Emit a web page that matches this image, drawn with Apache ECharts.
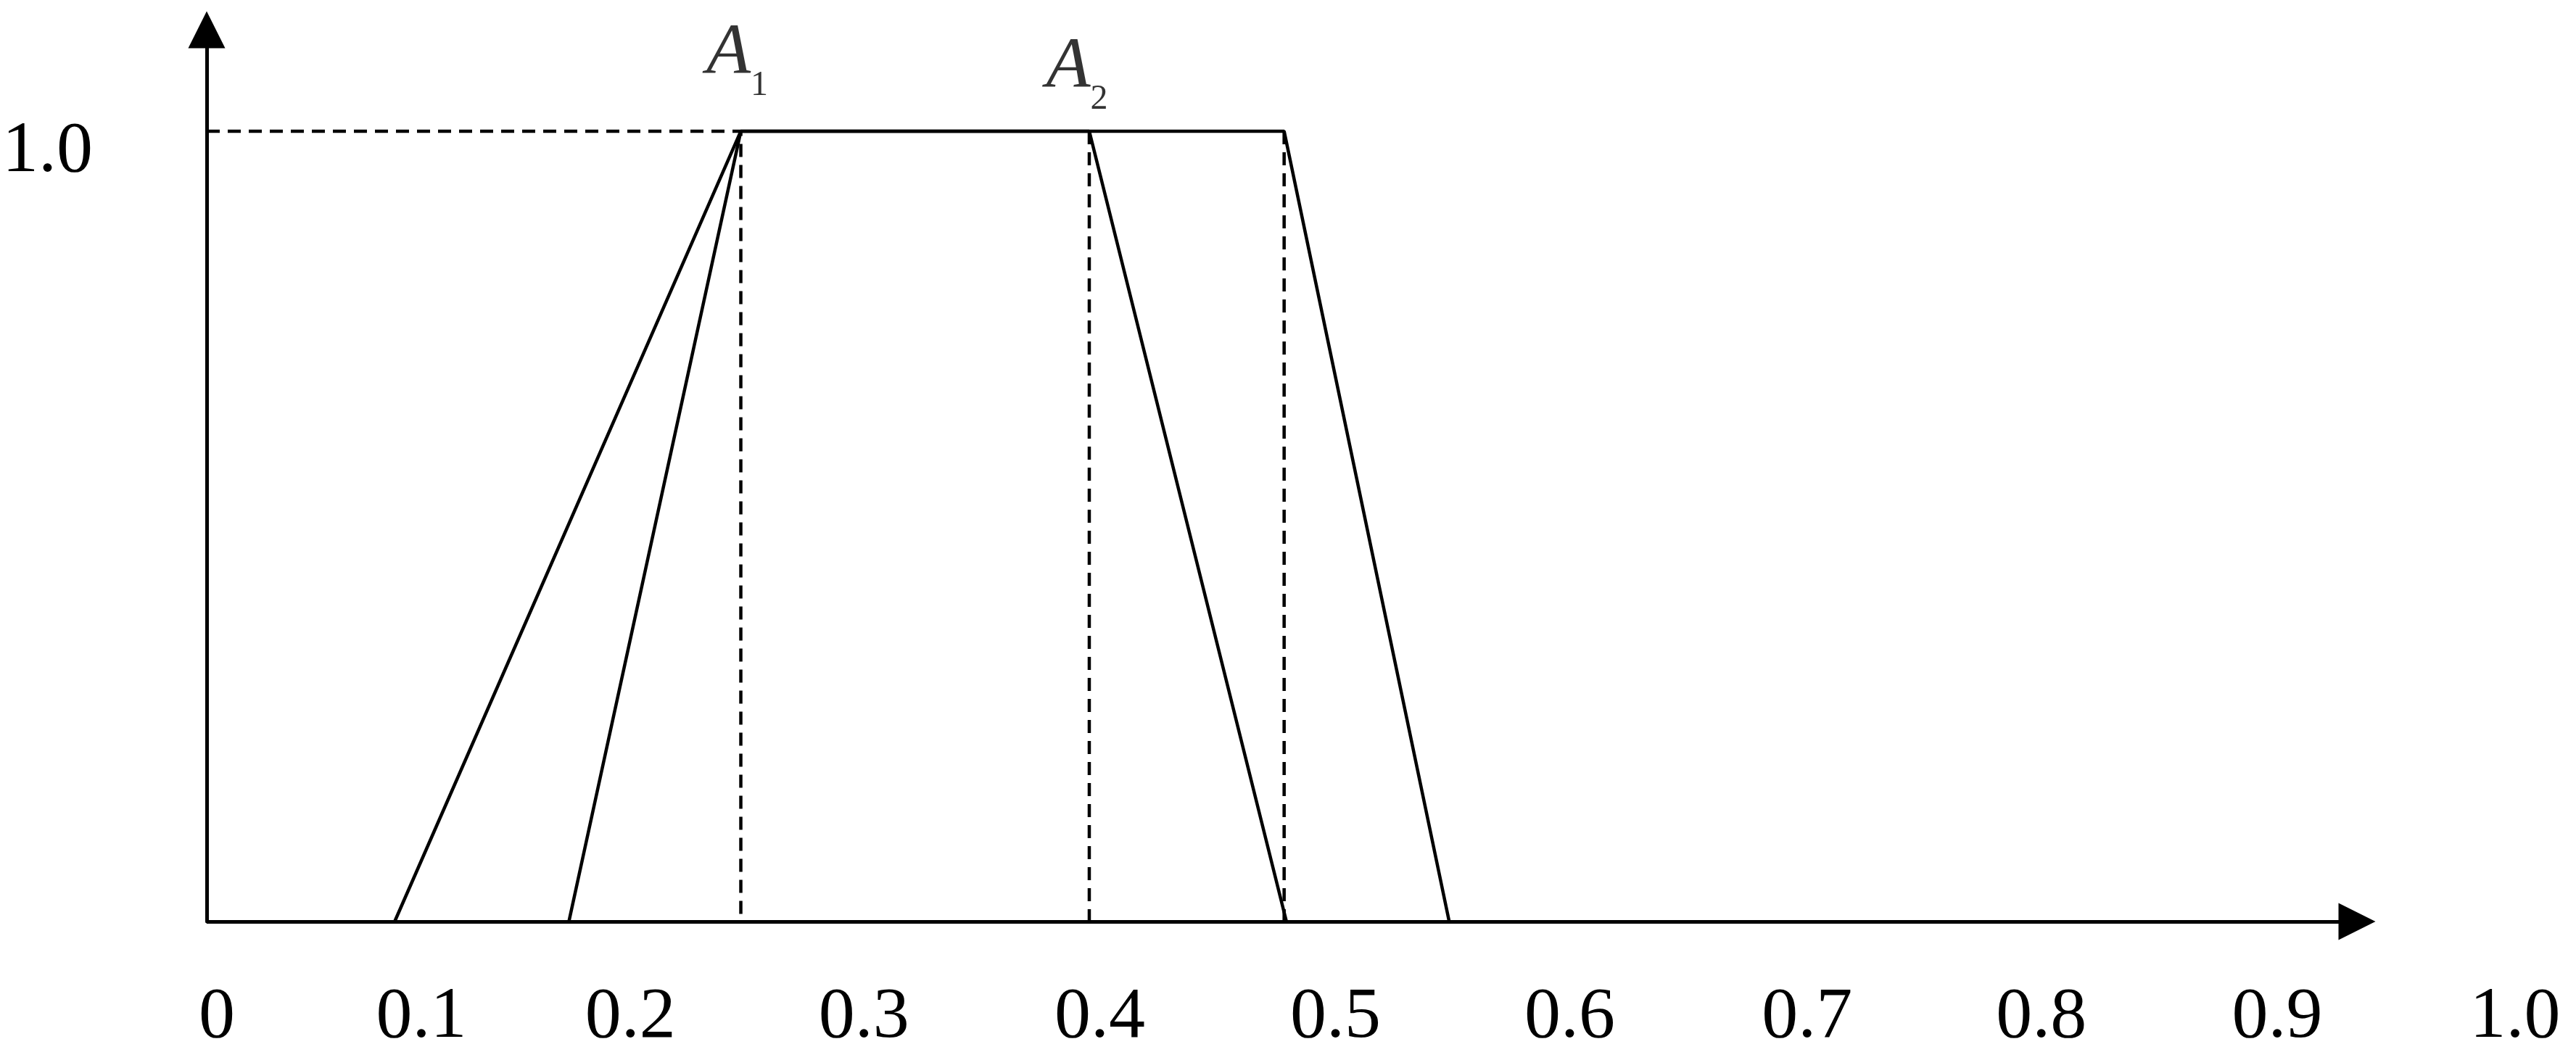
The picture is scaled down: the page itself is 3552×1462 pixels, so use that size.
<!DOCTYPE html>
<html>
<head>
<meta charset="utf-8">
<script src="https://cdn.jsdelivr.net/npm/echarts@6/dist/echarts.min.js"></script>
<style>
html,body{margin:0;padding:0;background:#fff;}
#chart{width:3552px;height:1462px;}
</style>
</head>
<body>
<div id="chart"></div>
<script>
// ---- data ----
const xTickValues = [0, 0.1, 0.2, 0.3, 0.4, 0.5, 0.6, 0.7, 0.8, 0.9, 1.0];
const xTickLabels = ['0', '0.1', '0.2', '0.3', '0.4', '0.5', '0.6', '0.7', '0.8', '0.9', '1.0'];
const yTickValues = [1.0];
const yTickLabels = ['1.0'];
// trapezoidal fuzzy numbers (a, b, c, d) and membership at each vertex
const A1 = [0.082, 0.233, 0.470, 0.542];
const A2 = [0.158, 0.233, 0.385, 0.471];
const membership = [0, 1, 1, 0];
const labelMain = ['A', 'A'];
const labelSub = ['1', '2'];
const labelAnchorX = [A1[1], A2[2]];
const labelAnchorY = [1, 1];
const xAxisEnd = 0.938;   // where the drawn x axis (with arrow) ends
const yAxisMax = 1.1284;  // where the drawn y axis (with arrow) ends

// ---- styles ----
const FONT = 'Liberation Serif';
const solid = { color: '#000', width: 4.5, type: 'solid' };
const dashed = { color: '#000', width: 4.5, type: [18, 11] };
const labelStyles = [
  { distance: 56, offset: [-5, 0] },
  { distance: 37, offset: [-17, 0] }
];
// horizontal nudges of the hand-placed tick labels (pixels)
const xLabelShift = [14, -20, -48, -42, -33, -24, -17, -6, 1, 10, 22];

function tickIndex(values, v) {
  return values.findIndex(t => Math.abs(t - v) < 1e-6);
}
const xRich = {};
xLabelShift.forEach((d, i) => {
  xRich['t' + i] = {
    fontFamily: FONT, fontSize: 100, lineHeight: 100, color: '#000',
    padding: d >= 0 ? [0, 0, 0, 2 * d] : [0, -2 * d, 0, 0]
  };
});

function trap(t) { return t.map((x, i) => [x, membership[i]]); }
function lineSeries(name, data, style) {
  return {
    name, type: 'line', data, symbol: 'none', showSymbol: false, clip: false,
    silent: true, animation: false, lineStyle: style, emphasis: { disabled: true }
  };
}

const guides = [
  [[0, 1], [A1[1], 1], [A1[1], 0]],
  [[A2[2], 1], [A2[2], 0]],
  [[A1[2], 1], [A1[2], 0]]
];

const series = [
  lineSeries('A1', trap(A1), solid),
  lineSeries('A2', trap(A2), solid)
];
guides.forEach((g, i) => series.push(lineSeries('guide' + i, g, dashed)));
series.push({
  name: 'xAxisLine', type: 'line', data: [], clip: false, silent: true, animation: false,
  markLine: {
    silent: true, animation: false,
    symbol: ['none', 'triangle'], symbolSize: 51,
    label: { show: false },
    emphasis: { disabled: true },
    lineStyle: { color: '#000', width: 5, type: 'solid' },
    data: [[{ coord: [0, 0] }, { coord: [xAxisEnd, 0] }]]
  }
});
series.push({
  name: 'labels', type: 'scatter', clip: false, silent: true, animation: false,
  symbolSize: 1, itemStyle: { color: 'transparent' },
  data: labelAnchorX.map((x, i) => ({
    value: [x, labelAnchorY[i]],
    label: {
      show: true, position: 'top',
      distance: labelStyles[i].distance, offset: labelStyles[i].offset,
      formatter: '{a|' + labelMain[i] + '}{s|' + labelSub[i] + '}',
      rich: {
        a: { fontFamily: FONT, fontStyle: 'italic', fontSize: 100, lineHeight: 100, color: '#000', verticalAlign: 'top' },
        s: { fontFamily: FONT, fontSize: 48, lineHeight: 48, color: '#000', verticalAlign: 'top', padding: [70, 0, 0, 0] }
      }
    }
  }))
});

const option = {
  backgroundColor: '#fff',
  animation: false,
  textStyle: { fontFamily: FONT },
  grid: { left: 281, right: 106, top: 41, bottom: 191, containLabel: false },
  xAxis: {
    type: 'value', min: 0, max: 1, interval: 0.1,
    axisLine: { show: false },
    axisTick: { show: false },
    splitLine: { show: false },
    axisLabel: {
      show: true, margin: 83, color: '#000', fontFamily: FONT, fontSize: 100,
      formatter: function (v) {
        const i = tickIndex(xTickValues, v);
        return i >= 0 ? '{t' + i + '|' + xTickLabels[i] + '}' : '';
      },
      rich: xRich
    }
  },
  yAxis: {
    type: 'value', min: 0, max: yAxisMax, interval: 1,
    axisLine: {
      show: true, onZero: true,
      symbol: ['none', 'triangle'], symbolSize: [51, 51],
      lineStyle: { color: '#000', width: 5 }
    },
    axisTick: { show: false },
    splitLine: { show: false },
    axisLabel: {
      show: true, margin: 157, color: '#000', fontFamily: FONT, fontSize: 100,
      formatter: function (v) {
        const i = tickIndex(yTickValues, v);
        return i >= 0 ? '{v|' + yTickLabels[i] + '}' : '';
      },
      rich: { v: { fontFamily: FONT, fontSize: 100, lineHeight: 100, color: '#000', padding: [58, 0, 0, 0] } }
    }
  },
  series
};

const chart = echarts.init(document.getElementById('chart'), null, { renderer: 'canvas' });
chart.setOption(option);
</script>
</body>
</html>
